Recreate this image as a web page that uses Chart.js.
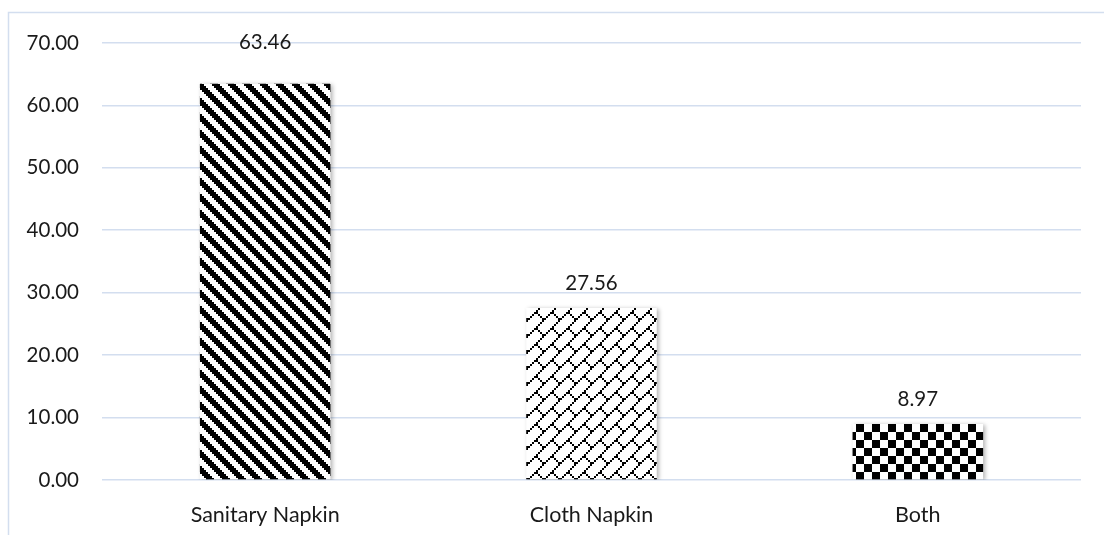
<!DOCTYPE html>
<html>
<head>
<meta charset="utf-8">
<script src="https://cdn.jsdelivr.net/npm/chart.js@4.4.1/dist/chart.umd.min.js"></script>
<style>
  html, body { margin: 0; padding: 0; background: #ffffff; }
  #wrap { width: 1104px; height: 535px; position: relative; }
</style>
</head>
<body>
<div id="wrap"><canvas id="chart" width="1104" height="535"></canvas></div>
<script>
// Napkin type usage (%)
const categories = ['Sanitary Napkin', 'Cloth Napkin', 'Both'];
const shares = [63.46, 27.56, 8.97];
const yTickValues = [0, 10, 20, 30, 40, 50, 60, 70];

const FONT = 'Lato, "Open Sans", sans-serif';
const TEXT = '#1a1a1a';
const GRID = '#d3deef';

// Build a monochrome fill pattern from an 8x8 per-cell rule, each cell drawn as a 2x2 block
function makePattern(rule, cell = 2) {
  const n = 8 * cell;
  const c = document.createElement('canvas');
  c.width = n; c.height = n;
  const g = c.getContext('2d');
  g.fillStyle = '#ffffff';
  g.fillRect(0, 0, n, n);
  g.fillStyle = '#000000';
  for (let y = 0; y < 8; y++) {
    for (let x = 0; x < 8; x++) {
      if (rule(x, y)) g.fillRect(x * cell, y * cell, cell, cell);
    }
  }
  return g.createPattern(c, 'repeat');
}

// wide downward diagonal stripes
const stripes = makePattern((x, y) => (((x - y) % 8) + 8) % 8 < 4);
// diagonal brick
const brickRows = [[7], [6], [5], [4], [3, 4], [2, 5], [1, 6], [0, 7]];
const brick = makePattern((x, y) => brickRows[y].includes(x));
// large checkerboard
const checker = makePattern((x, y) => ((x >> 2) + (y >> 2)) % 2 === 0);

const frame = {
  id: 'frame',
  beforeDraw(chart) {
    const ctx = chart.ctx;
    ctx.save();
    ctx.fillStyle = '#ffffff';
    ctx.fillRect(0, 0, chart.width, chart.height);
    ctx.strokeStyle = GRID;
    ctx.lineWidth = 1.5;
    ctx.strokeRect(8.5, 12.5, chart.width + 20, chart.height + 20);
    ctx.restore();
  }
};

const barShadow = {
  id: 'barShadow',
  beforeDatasetDraw(chart) {
    const ctx = chart.ctx;
    ctx.save();
    ctx.shadowColor = 'rgba(0,0,0,0.3)';
    ctx.shadowBlur = 4;
    ctx.shadowOffsetX = 2;
    ctx.shadowOffsetY = 1;
  },
  afterDatasetDraw(chart) {
    chart.ctx.restore();
  }
};

const valueLabels = {
  id: 'valueLabels',
  afterDatasetsDraw(chart, args, opts) {
    const ctx = chart.ctx;
    const meta = chart.getDatasetMeta(0);
    ctx.save();
    ctx.font = opts.size + 'px ' + FONT;
    ctx.fillStyle = TEXT;
    ctx.textAlign = 'center';
    ctx.textBaseline = 'middle';
    meta.data.forEach((bar, i) => {
      const v = chart.data.datasets[0].data[i];
      ctx.fillText(v.toFixed(2), bar.x, bar.y - opts.offsets[i]);
    });
    ctx.restore();
  }
};

new Chart(document.getElementById('chart'), {
  type: 'bar',
  data: {
    labels: categories,
    datasets: [{
      data: shares,
      backgroundColor: [stripes, brick, checker],
      borderWidth: 0,
      barPercentage: 0.4,
      categoryPercentage: 1.0
    }]
  },
  options: {
    responsive: false,
    animation: false,
    devicePixelRatio: 1,
    layout: { padding: { top: 43, right: 23, bottom: 0, left: 0 } },
    plugins: {
      legend: { display: false },
      tooltip: { enabled: false },
      valueLabels: { offsets: [41, 25, 25], size: 20.5 }
    },
    scales: {
      x: {
        grid: { display: false },
        border: { display: false },
        ticks: {
          color: TEXT,
          padding: 14,
          font: { family: FONT, size: 21.5 }
        },
        afterFit(scale) { scale.height = 55; }
      },
      y: {
        min: 0,
        max: 70,
        afterBuildTicks(scale) {
          scale.ticks = yTickValues.map(v => ({ value: v }));
        },
        grid: { color: GRID, lineWidth: 1.6, drawTicks: false },
        border: { display: false },
        ticks: {
          color: TEXT,
          padding: 23,
          font: { family: FONT, size: 20.5 },
          callback: v => Number(v).toFixed(2)
        },
        afterFit(scale) { scale.width = 102; }
      }
    }
  },
  plugins: [frame, barShadow, valueLabels]
});
</script>
</body>
</html>
